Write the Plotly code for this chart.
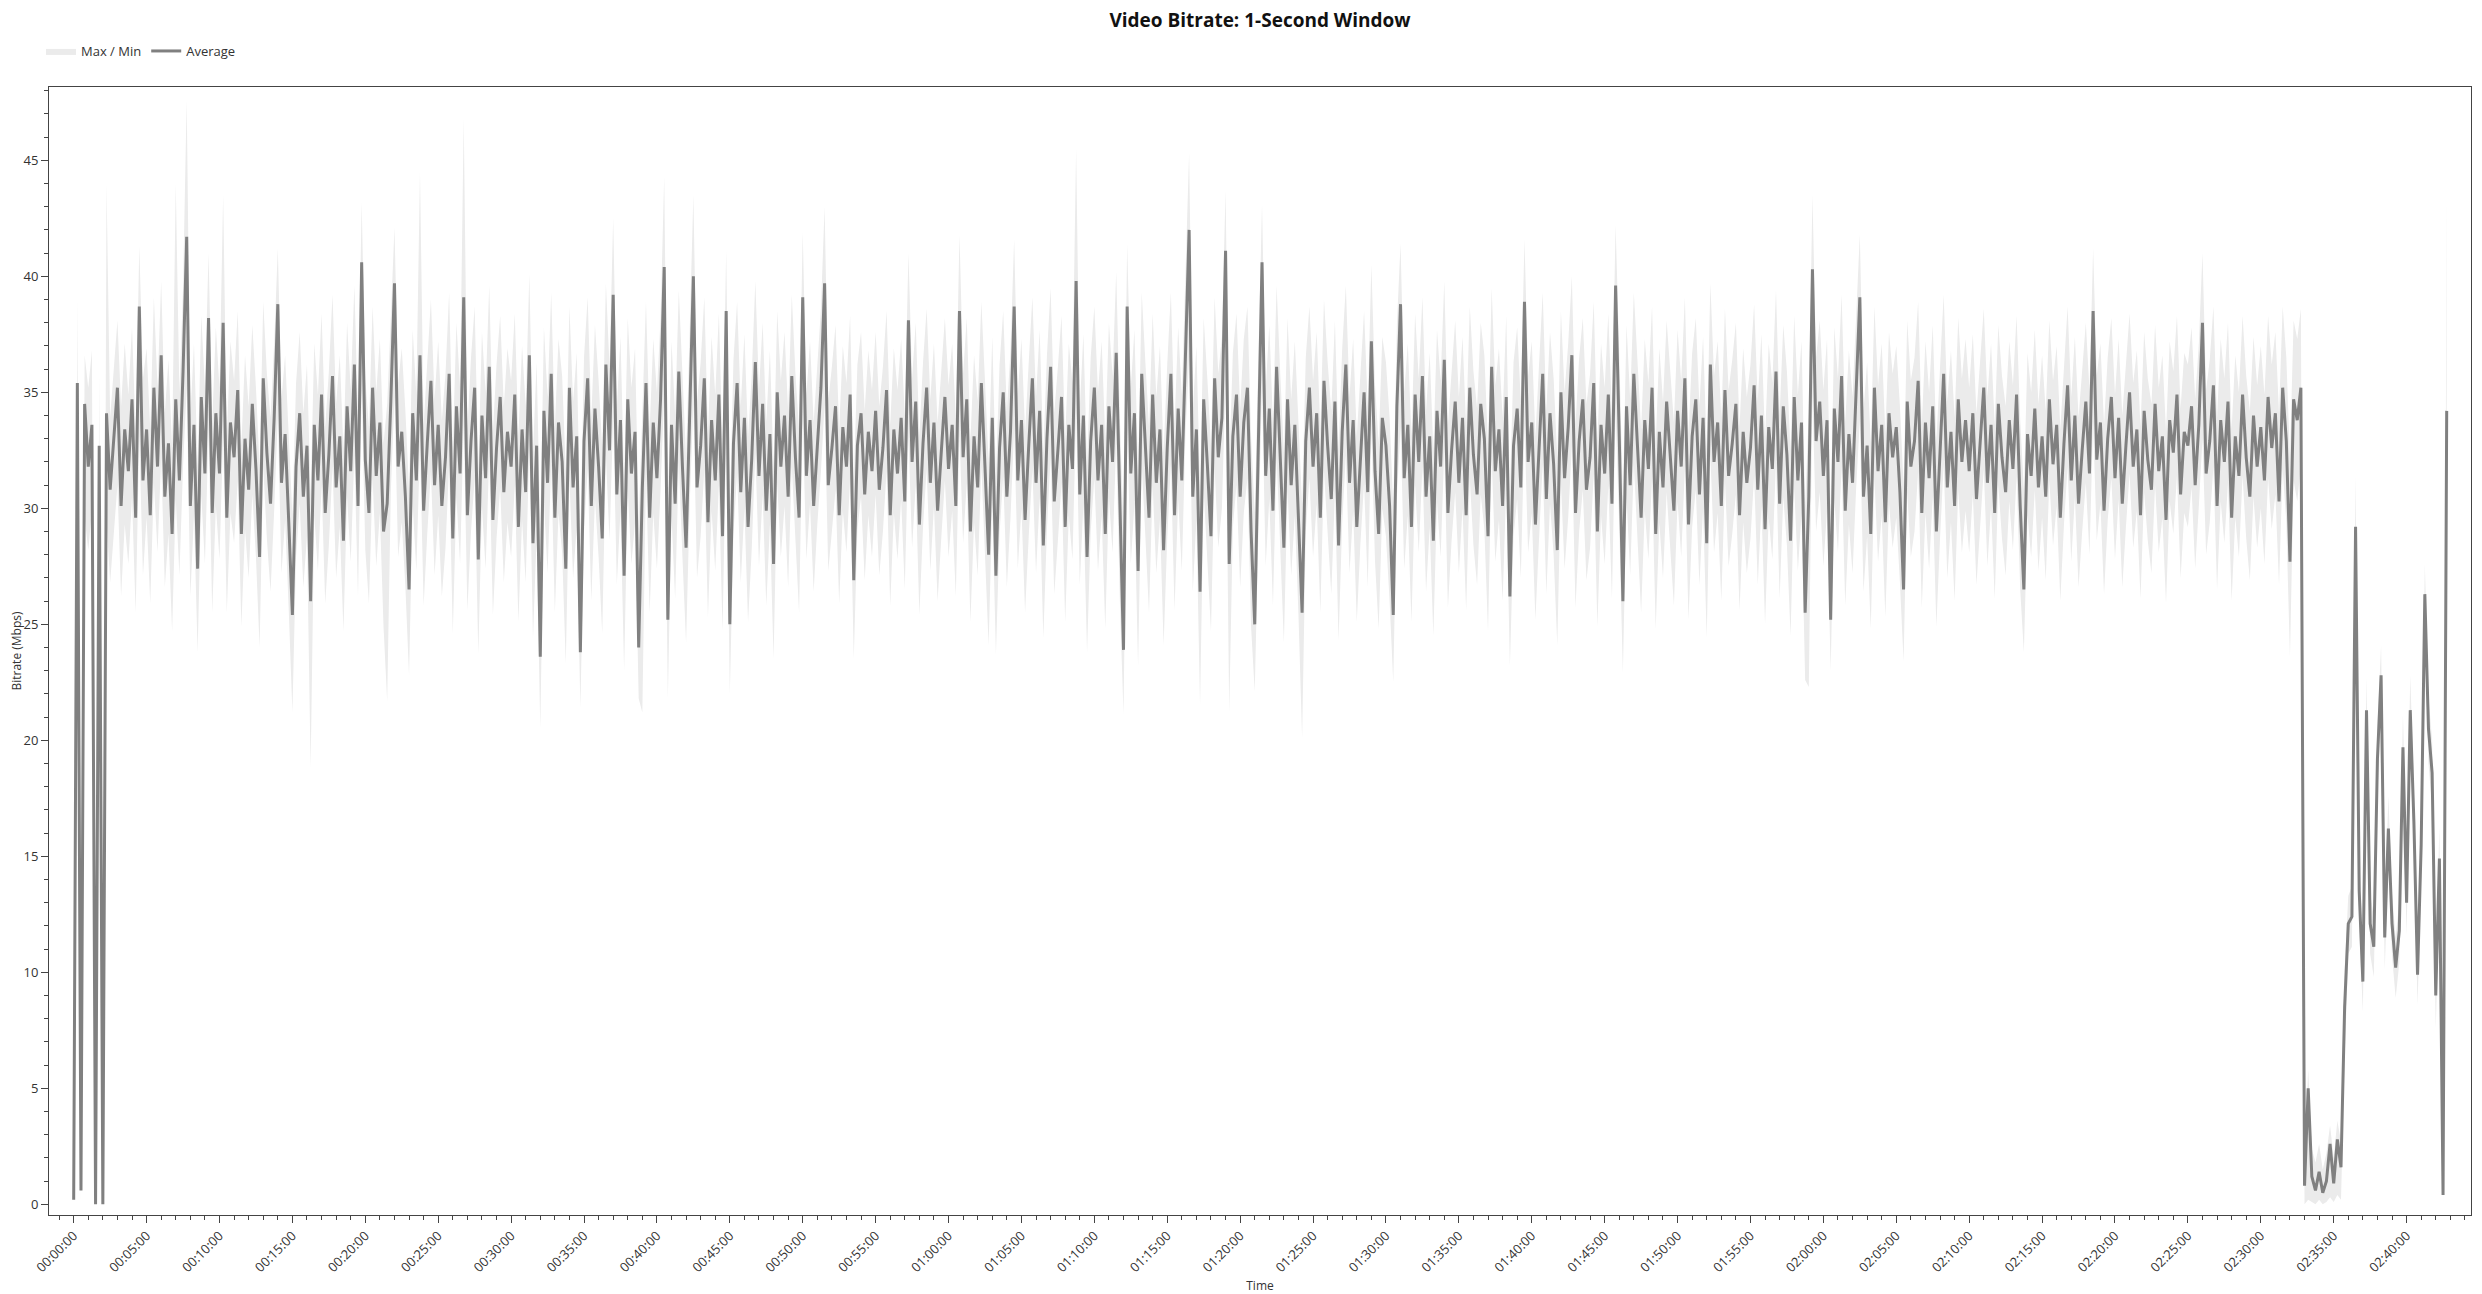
import numpy as np
import pandas as pd
import plotly.graph_objects as go

START = "2000-01-01 00:00:00"
STEP_S = 15  # one sample every 15 seconds

# Average bitrate, tenths of Mbps
avg_tenths = [
2, 354, 6, 345, 318, 336, 0, 327, 0, 341, 308, 329, 352, 301, 334, 316, 347, 296, 387, 312,
334, 297, 352, 318, 366, 305, 328, 289, 347, 312, 359, 417, 301, 336, 274, 348, 315, 382, 298, 341,
315, 380, 296, 337, 322, 351, 289, 330, 308, 345, 317, 279, 356, 324, 302, 339, 388, 311, 332, 294,
254, 318, 341, 305, 327, 260, 336, 312, 349, 298, 323, 357, 309, 331, 286, 344, 316, 362, 301, 406,
321, 298, 352, 314, 337, 290, 302, 346, 397, 318, 333, 305, 265, 341, 312, 366, 299, 328, 355, 310,
336, 301, 322, 358, 287, 344, 315, 391, 297, 329, 352, 278, 340, 313, 361, 295, 326, 348, 307, 333,
318, 349, 292, 334, 307, 366, 285, 327, 236, 342, 311, 358, 296, 337, 320, 274, 352, 309, 331, 238,
329, 356, 301, 343, 318, 287, 362, 325, 392, 306, 338, 271, 347, 315, 333, 240, 309, 354, 296, 337,
313, 347, 404, 252, 336, 302, 359, 318, 283, 341, 400, 309, 327, 356, 294, 338, 312, 349, 288, 385,
250, 328, 354, 307, 339, 292, 321, 363, 314, 345, 299, 332, 276, 350, 318, 340, 305, 357, 322, 296,
391, 314, 338, 301, 329, 352, 397, 310, 326, 344, 297, 335, 318, 349, 269, 327, 341, 306, 333, 316,
342, 308, 326, 351, 297, 334, 315, 339, 303, 381, 320, 346, 293, 328, 352, 311, 337, 299, 324, 348,
317, 336, 301, 385, 322, 347, 290, 331, 309, 354, 318, 280, 339, 271, 326, 350, 305, 333, 387, 312,
338, 295, 327, 356, 311, 342, 284, 330, 361, 303, 325, 348, 292, 336, 317, 398, 306, 340, 279, 329,
352, 312, 336, 289, 344, 320, 367, 301, 239, 387, 315, 341, 273, 358, 327, 296, 349, 311, 334, 282,
326, 358, 297, 343, 312, 371, 420, 305, 334, 264, 347, 319, 288, 356, 322, 339, 411, 276, 331, 349,
305, 337, 352, 290, 250, 328, 406, 314, 343, 299, 361, 322, 283, 347, 310, 336, 295, 255, 329, 352,
318, 341, 296, 355, 327, 304, 346, 284, 333, 362, 311, 338, 292, 324, 350, 307, 372, 316, 289, 339,
327, 301, 254, 344, 388, 313, 336, 292, 349, 320, 357, 305, 331, 286, 342, 318, 364, 298, 325, 346,
311, 339, 297, 352, 323, 306, 345, 330, 288, 361, 316, 334, 301, 348, 262, 327, 343, 309, 389, 320,
337, 293, 326, 358, 304, 341, 319, 282, 350, 313, 335, 366, 298, 329, 347, 308, 322, 354, 290, 336,
315, 349, 302, 396, 331, 260, 344, 310, 358, 325, 296, 338, 317, 352, 289, 333, 309, 346, 321, 299,
342, 318, 356, 293, 331, 347, 306, 339, 285, 362, 320, 337, 301, 351, 314, 328, 345, 297, 333, 311,
326, 353, 308, 340, 291, 335, 317, 359, 302, 344, 323, 286, 348, 312, 337, 255, 305, 403, 329, 346,
314, 338, 252, 343, 320, 357, 299, 332, 311, 348, 391, 305, 327, 289, 352, 316, 336, 294, 341, 322,
335, 307, 265, 346, 318, 329, 355, 298, 337, 313, 344, 290, 326, 358, 309, 333, 301, 347, 320, 338,
316, 341, 304, 329, 352, 311, 336, 298, 345, 322, 307, 338, 317, 349, 301, 265, 332, 314, 343, 309,
331, 305, 347, 319, 336, 296, 328, 353, 312, 340, 302, 325, 346, 315, 385, 321, 337, 299, 330, 348,
313, 339, 302, 327, 350, 318, 334, 297, 342, 321, 308, 345, 316, 331, 295, 338, 324, 349, 306, 333,
327, 344, 310, 336, 380, 315, 329, 353, 301, 338, 320, 346, 296, 331, 314, 349, 322, 305, 340, 318,
335, 312, 348, 326, 341, 303, 352, 329, 277, 347, 338, 352,
8, 50, 12, 6, 14, 5, 10, 26, 9, 28, 16, 85, 121, 124, 292, 135, 96, 213, 121, 111,
192, 228, 115, 162, 121, 102, 118, 197, 130, 213, 165, 99, 155, 263, 205, 186, 90, 149, 4, 342,
]

# Maximum bitrate within each window, tenths of Mbps
max_tenths = [
2, 391, 33, 366, 352, 368, 2, 358, 2, 440, 339, 362, 381, 344, 371, 349, 378, 332, 413, 356,
369, 334, 391, 352, 398, 341, 364, 326, 440, 350, 395, 476, 339, 371, 318, 383, 352, 410, 337, 378,
352, 435, 331, 372, 355, 385, 327, 366, 344, 379, 352, 318, 389, 358, 339, 371, 412, 347, 366, 331,
297, 354, 376, 341, 362, 306, 371, 349, 384, 335, 359, 392, 345, 366, 325, 380, 351, 396, 338, 432,
356, 335, 387, 350, 373, 328, 345, 382, 421, 354, 369, 342, 308, 377, 349, 445, 336, 363, 390, 347,
372, 338, 358, 393, 326, 380, 352, 468, 334, 365, 387, 317, 376, 350, 396, 333, 362, 383, 344, 369,
355, 384, 331, 370, 344, 401, 324, 363, 290, 378, 348, 393, 335, 373, 357, 316, 387, 346, 367, 289,
365, 391, 339, 379, 355, 326, 397, 361, 425, 343, 374, 312, 382, 352, 369, 294, 347, 389, 334, 373,
350, 382, 443, 301, 372, 340, 394, 355, 322, 377, 435, 346, 363, 391, 332, 374, 349, 384, 326, 411,
298, 364, 389, 344, 375, 331, 357, 398, 351, 380, 337, 368, 318, 385, 355, 376, 342, 392, 358, 334,
419, 349, 372, 337, 364, 386, 430, 346, 361, 379, 334, 370, 354, 383, 312, 362, 376, 342, 368, 351,
376, 344, 361, 385, 336, 369, 351, 373, 340, 410, 356, 380, 331, 363, 386, 347, 371, 337, 359, 382,
353, 371, 339, 418, 358, 382, 329, 366, 346, 389, 355, 320, 374, 314, 362, 385, 342, 368, 416, 349,
373, 333, 363, 391, 348, 377, 324, 366, 395, 341, 361, 383, 330, 371, 354, 455, 343, 375, 319, 365,
387, 350, 372, 330, 380, 357, 402, 339, 292, 414, 352, 377, 315, 393, 363, 335, 384, 348, 370, 324,
362, 393, 336, 378, 349, 406, 453, 342, 370, 309, 382, 356, 327, 391, 358, 374, 437, 318, 367, 384,
343, 373, 387, 331, 298, 364, 431, 351, 379, 337, 396, 358, 324, 382, 347, 372, 333, 302, 365, 387,
355, 376, 334, 390, 363, 342, 381, 325, 369, 396, 348, 373, 331, 360, 385, 344, 405, 353, 328, 374,
363, 339, 301, 379, 414, 350, 371, 331, 384, 356, 391, 342, 367, 325, 377, 355, 398, 336, 361, 381,
348, 374, 335, 387, 359, 343, 380, 366, 327, 395, 353, 369, 339, 383, 307, 363, 378, 346, 416, 357,
372, 331, 362, 393, 342, 376, 356, 322, 385, 350, 371, 400, 336, 365, 382, 345, 358, 389, 329, 371,
352, 384, 340, 422, 367, 305, 379, 347, 393, 361, 334, 373, 354, 387, 328, 369, 346, 381, 357, 337,
377, 355, 391, 332, 367, 382, 344, 374, 325, 397, 357, 372, 339, 386, 351, 364, 380, 335, 369, 348,
362, 388, 346, 375, 330, 371, 354, 394, 340, 379, 359, 325, 383, 349, 372, 301, 342, 435, 365, 381,
351, 373, 298, 378, 356, 392, 337, 368, 348, 383, 418, 342, 363, 328, 387, 353, 371, 332, 376, 358,
370, 344, 310, 381, 355, 365, 389, 336, 372, 350, 379, 329, 362, 392, 346, 368, 339, 382, 356, 373,
352, 375, 341, 364, 386, 348, 371, 336, 379, 357, 344, 372, 353, 383, 338, 308, 367, 350, 377, 345,
366, 342, 381, 355, 370, 334, 363, 387, 348, 374, 339, 360, 380, 351, 412, 357, 371, 336, 365, 382,
349, 373, 340, 362, 384, 354, 368, 335, 376, 356, 345, 379, 352, 366, 333, 372, 359, 383, 343, 367,
362, 378, 347, 371, 410, 351, 364, 387, 339, 373, 356, 380, 334, 366, 350, 383, 357, 342, 374, 353,
370, 349, 383, 362, 376, 341, 387, 365, 322, 381, 373, 386,
21, 58, 24, 18, 26, 15, 22, 34, 20, 36, 27, 101, 133, 137, 314, 152, 110, 227, 134, 124,
206, 241, 129, 176, 134, 115, 131, 211, 144, 228, 179, 113, 169, 276, 219, 200, 104, 163, 12, 435,
]

# Minimum bitrate within each window, tenths of Mbps
min_tenths = [
0, 305, 0, 296, 282, 299, 0, 288, 0, 295, 268, 291, 310, 262, 293, 276, 305, 255, 331, 271,
296, 259, 311, 281, 322, 266, 289, 247, 304, 271, 318, 352, 262, 297, 238, 306, 276, 334, 255, 301,
278, 331, 255, 298, 285, 312, 249, 291, 270, 306, 279, 240, 318, 287, 264, 299, 339, 272, 295, 256,
212, 279, 302, 266, 288, 188, 297, 273, 310, 259, 284, 318, 270, 292, 247, 305, 277, 323, 262, 351,
282, 259, 313, 275, 298, 249, 217, 307, 348, 279, 294, 266, 228, 302, 273, 327, 258, 289, 316, 271,
297, 262, 283, 319, 246, 305, 276, 337, 256, 290, 313, 237, 301, 274, 322, 254, 287, 309, 268, 294,
279, 310, 251, 295, 268, 327, 244, 288, 205, 303, 272, 319, 255, 298, 281, 233, 313, 270, 292, 214,
290, 317, 260, 304, 279, 246, 323, 286, 339, 267, 299, 230, 308, 276, 294, 218, 212, 315, 255, 298,
274, 308, 349, 218, 297, 261, 320, 279, 242, 302, 345, 270, 288, 317, 253, 299, 273, 310, 247, 332,
220, 289, 315, 268, 300, 251, 282, 324, 275, 306, 258, 293, 235, 311, 279, 301, 266, 318, 283, 255,
338, 278, 302, 264, 293, 316, 345, 273, 290, 308, 259, 299, 281, 313, 235, 291, 305, 269, 297, 279,
306, 271, 290, 316, 258, 298, 278, 304, 265, 331, 283, 310, 254, 292, 317, 273, 301, 260, 287, 312,
279, 299, 262, 332, 285, 311, 251, 294, 271, 318, 280, 241, 302, 237, 289, 314, 266, 296, 334, 274,
300, 255, 288, 317, 272, 305, 244, 291, 322, 263, 286, 311, 251, 297, 278, 341, 267, 302, 238, 290,
313, 273, 297, 248, 305, 281, 328, 260, 211, 334, 276, 302, 232, 319, 288, 255, 310, 272, 295, 241,
287, 319, 256, 304, 273, 332, 365, 264, 295, 215, 308, 280, 247, 317, 283, 300, 355, 212, 292, 310,
266, 298, 313, 249, 221, 289, 351, 275, 304, 258, 322, 283, 242, 308, 271, 297, 254, 201, 290, 313,
279, 302, 255, 316, 288, 263, 307, 243, 294, 323, 272, 299, 251, 285, 311, 266, 333, 277, 248, 300,
288, 260, 225, 305, 335, 274, 297, 251, 310, 281, 318, 264, 292, 245, 303, 279, 325, 257, 286, 307,
272, 300, 256, 313, 284, 267, 306, 291, 247, 322, 277, 295, 260, 309, 232, 288, 304, 270, 336, 281,
298, 252, 287, 319, 263, 302, 280, 241, 311, 274, 296, 327, 257, 290, 308, 269, 283, 315, 249, 297,
276, 310, 261, 342, 292, 229, 305, 271, 319, 286, 255, 299, 278, 313, 248, 294, 270, 307, 282, 258,
303, 279, 317, 252, 292, 308, 267, 300, 244, 323, 281, 298, 260, 312, 275, 289, 306, 256, 294, 272,
287, 314, 267, 301, 250, 296, 278, 320, 261, 305, 284, 245, 309, 273, 298, 226, 223, 349, 290, 307,
275, 299, 230, 304, 281, 318, 258, 293, 272, 309, 338, 264, 288, 248, 313, 277, 297, 253, 302, 283,
296, 268, 234, 307, 279, 290, 316, 257, 298, 274, 305, 249, 287, 319, 270, 294, 260, 308, 281, 299,
281, 306, 267, 294, 317, 275, 301, 261, 310, 287, 271, 303, 282, 314, 265, 238, 297, 279, 308, 273,
296, 269, 312, 284, 301, 260, 293, 318, 277, 305, 266, 290, 311, 280, 337, 286, 302, 263, 295, 313,
278, 304, 266, 292, 315, 283, 299, 261, 307, 286, 272, 310, 281, 296, 259, 303, 289, 314, 270, 298,
292, 309, 274, 301, 330, 280, 294, 318, 265, 303, 285, 311, 260, 296, 279, 314, 287, 269, 305, 283,
300, 276, 313, 291, 306, 267, 317, 294, 236, 312, 303, 318,
0, 2, 1, 0, 2, 0, 1, 3, 1, 4, 2, 62, 108, 111, 268, 119, 83, 198, 108, 98,
177, 213, 101, 147, 107, 89, 104, 182, 116, 197, 150, 86, 140, 247, 190, 171, 76, 134, 0, 300,
]

if not (len(avg_tenths) == len(max_tenths) == len(min_tenths)):
    raise ValueError(f"length mismatch {len(avg_tenths)} {len(max_tenths)} {len(min_tenths)}")

n = len(avg_tenths)
t0 = pd.Timestamp(START)
times = t0 + pd.to_timedelta(np.arange(n) * STEP_S, unit="s")
avg = np.array(avg_tenths) / 10.0
mx = np.array(max_tenths) / 10.0
mn = np.array(min_tenths) / 10.0

FONT = "Open Sans, Noto Sans, DejaVu Sans, sans-serif"
LIGHT = "#ebebeb"
DARK = "#808080"
AX = "#444444"

# The page body has an 8px margin, so the figure is 16px smaller than the window.
W, H = 2474, 1286

fig = go.Figure()
fig.add_trace(go.Scatter(x=times, y=mn, mode="lines", line=dict(width=0, color=LIGHT),
                         showlegend=False, hoverinfo="skip"))
fig.add_trace(go.Scatter(x=times, y=mx, mode="lines", line=dict(width=0, color=LIGHT),
                         fill="tonexty", fillcolor=LIGHT, name="Max / Min"))
fig.add_trace(go.Scatter(x=times, y=avg, mode="lines", line=dict(width=3.0, color=DARK),
                         name="Average"))

fmt = "%Y-%m-%d %H:%M:%S.%f"
x_lo = (t0 - pd.Timedelta(seconds=101.6)).strftime(fmt)
x_hi = (t0 + pd.Timedelta(seconds=9865)).strftime(fmt)

fig.update_layout(
    width=W, height=H,
    margin=dict(l=41, r=11, t=79, b=79, autoexpand=False),
    paper_bgcolor="white", plot_bgcolor="white",
    font=dict(family=FONT, size=13, color="#333333"),
    title=dict(text="Video Bitrate: 1-Second Window", x=0.5, xref="paper", xanchor="center",
               y=1 - 12 / H, yref="container", yanchor="middle",
               font=dict(family=FONT, size=19, color="#111111", weight="bold")),
    legend=dict(orientation="h", xref="container", yref="container", traceorder="normal",
                x=33 / W, y=1 - 43 / H, xanchor="left", yanchor="middle",
                font=dict(size=13, color="#333333"), bgcolor="rgba(0,0,0,0)"),
    showlegend=True,
)

fig.update_xaxes(
    type="date", range=[x_lo, x_hi], tickformat="%H:%M:%S",
    tick0=START, dtick=300000, tickangle=-45,
    ticks="outside", ticklen=7, tickcolor=AX, tickwidth=1,
    showline=True, linecolor=AX, linewidth=1, mirror=True,
    showgrid=False, zeroline=False, automargin=False,
    tickfont=dict(size=13, color="#333333"),
    minor=dict(dtick=60000, tick0=START, ticks="outside", ticklen=4, tickcolor=AX, showgrid=False),
    title=dict(text="Time", font=dict(size=12, color="#333333"), standoff=6),
)
fig.update_yaxes(
    range=[-0.46, 48.16], tick0=0, dtick=5,
    ticks="outside", ticklen=7, tickcolor=AX, tickwidth=1,
    showline=True, linecolor=AX, linewidth=1, mirror=True,
    showgrid=False, zeroline=False, automargin=False,
    tickfont=dict(size=13, color="#333333"),
    minor=dict(dtick=1, tick0=0, ticks="outside", ticklen=4, tickcolor=AX, showgrid=False),
    title=dict(text="Bitrate (Mbps)", font=dict(size=12, color="#333333"), standoff=4),
)

fig.write_html("out.html")
